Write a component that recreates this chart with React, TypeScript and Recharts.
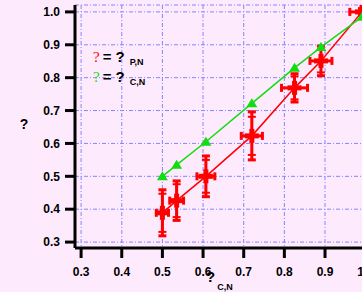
import {
  ComposedChart,
  Scatter,
  XAxis,
  YAxis,
  CartesianGrid,
  ErrorBar,
} from 'recharts'

// x values (?_C,N)
const xValues = [0.5, 0.535, 0.607, 0.72, 0.825, 0.89, 0.991]
// red series ?_P,N with errors
const redValues = [0.389, 0.426, 0.5, 0.623, 0.769, 0.851, 1.0]
const redErrY = [0.07, 0.06, 0.062, 0.073, 0.043, 0.045, 0.01]
const redErrYInner = [0.058, 0.05, 0.05, 0.058, 0.035, 0.035, 0.006]
const redErrX = [0.015, 0.017, 0.022, 0.026, 0.032, 0.027, 0.03]
// green series ?_C,N
const greenValues = [0.5, 0.535, 0.605, 0.722, 0.83, 0.893, 0.985]

const xTicks = [0.3, 0.4, 0.5, 0.6, 0.7, 0.8, 0.9, 1.0]
const yTicks = [0.3, 0.4, 0.5, 0.6, 0.7, 0.8, 0.9, 1.0]

const RED = '#ff0000'
const GREEN = '#11dd11'
const BG = '#fdeafd'
const FONT = '"Liberation Sans", Arial, sans-serif'

const redData = xValues.map((x, i) => ({
  x,
  y: redValues[i],
  ey: redErrY[i],
  eyIn: redErrYInner[i],
  ex: redErrX[i],
}))
const greenData = xValues.map((x, i) => ({ x, y: greenValues[i] }))

// eslint-disable-next-line @typescript-eslint/no-explicit-any
function RedMarker({ cx, cy }: any) {
  if (cx == null || cy == null) return null
  return (
    <g fill={RED}>
      <rect x={cx - 7} y={cy - 2.5} width={14} height={5} />
      <rect x={cx - 2.5} y={cy - 7} width={5} height={14} />
    </g>
  )
}

// eslint-disable-next-line @typescript-eslint/no-explicit-any
function GreenMarker({ cx, cy }: any) {
  if (cx == null || cy == null) return null
  return (
    <path
      d={`M${cx},${cy - 5} L${cx + 5.5},${cy + 4} L${cx - 5.5},${cy + 4} Z`}
      fill={GREEN}
    />
  )
}

// eslint-disable-next-line @typescript-eslint/no-explicit-any
function XLabel({ viewBox }: any) {
  const x = viewBox.x + 131
  const y = viewBox.y + 34
  return (
    <text x={x} y={y} fontFamily={FONT} fontWeight="bold" fill="#000">
      <tspan fontSize={15}>?</tspan>
      <tspan fontSize={9} dx={2} dy={8}>C,N</tspan>
    </text>
  )
}

// eslint-disable-next-line @typescript-eslint/no-explicit-any
function YLabel({ viewBox }: any) {
  return (
    <text
      x={24}
      y={viewBox.y + viewBox.height / 2 + 2}
      textAnchor="middle"
      fontFamily={FONT}
      fontWeight="bold"
      fontSize={14}
      fill="#000"
    >
      ?
    </text>
  )
}

function LegendBox() {
  const rows = [
    { color: RED, sub: 'P,N', y: 62 },
    { color: GREEN, sub: 'C,N', y: 82 },
  ]
  return (
    <svg
      width={80}
      height={50}
      viewBox="88 40 80 50"
      style={{ position: 'absolute', left: 88, top: 40, pointerEvents: 'none' }}
    >
      {rows.map(r => (
        <text key={r.sub} x={93} y={r.y}>
          <tspan fill={r.color} fontFamily='"Liberation Serif", serif' fontSize={15}>?</tspan>
          <tspan fill="#000" fontFamily={FONT} fontWeight="bold" fontSize={15} dx={3}>= ?</tspan>
          <tspan fill="#000" fontFamily={FONT} fontWeight="bold" fontSize={9} dx={5} dy={3}>{r.sub}</tspan>
        </text>
      ))}
    </svg>
  )
}

export default function App() {
  const tickStyle = { fill: '#000', fontSize: 12, fontWeight: 'bold', fontFamily: FONT }
  return (
    <div
      style={{
        position: 'fixed',
        left: 0,
        top: 0,
        width: 362,
        height: 292,
        overflow: 'hidden',
        background: BG,
      }}
    >
      <ComposedChart
        width={400}
        height={292}
        margin={{ top: 5, right: 14, left: 0, bottom: 0 }}
      >
        <CartesianGrid
          stroke="#8585ff"
          strokeDasharray="4 2 1 2"
          strokeWidth={1}
        />
        <XAxis
          type="number"
          dataKey="x"
          domain={[0.285, 1.05]}
          ticks={xTicks}
          allowDataOverflow
          height={44}
          tickSize={10}
          tickMargin={9}
          tickFormatter={(v: number) => v.toFixed(1)}
          axisLine={{ stroke: '#000', strokeWidth: 3 }}
          tickLine={{ stroke: '#000', strokeWidth: 3 }}
          tick={tickStyle}
          label={<XLabel />}
        />
        <YAxis
          type="number"
          dataKey="y"
          domain={[0.282, 1.021]}
          ticks={yTicks}
          allowDataOverflow
          width={75}
          tickSize={10}
          tickMargin={5}
          tickFormatter={(v: number) => v.toFixed(1)}
          axisLine={{ stroke: '#000', strokeWidth: 3 }}
          tickLine={{ stroke: '#000', strokeWidth: 3 }}
          tick={tickStyle}
          label={<YLabel />}
        />
        <Scatter
          data={redData}
          fill={RED}
          line={{ stroke: RED, strokeWidth: 1.5 }}
          shape={<RedMarker />}
          isAnimationActive={false}
        >
          <ErrorBar dataKey="ey" direction="y" width={4} stroke={RED} strokeWidth={3} isAnimationActive={false} />
          <ErrorBar dataKey="eyIn" direction="y" width={4} stroke={RED} strokeWidth={2} isAnimationActive={false} />
          <ErrorBar dataKey="ex" direction="x" width={4} stroke={RED} strokeWidth={3} isAnimationActive={false} />
        </Scatter>
        <Scatter
          data={greenData}
          fill={GREEN}
          line={{ stroke: GREEN, strokeWidth: 1.5 }}
          shape={<GreenMarker />}
          isAnimationActive={false}
        />
      </ComposedChart>
      <LegendBox />
    </div>
  )
}
